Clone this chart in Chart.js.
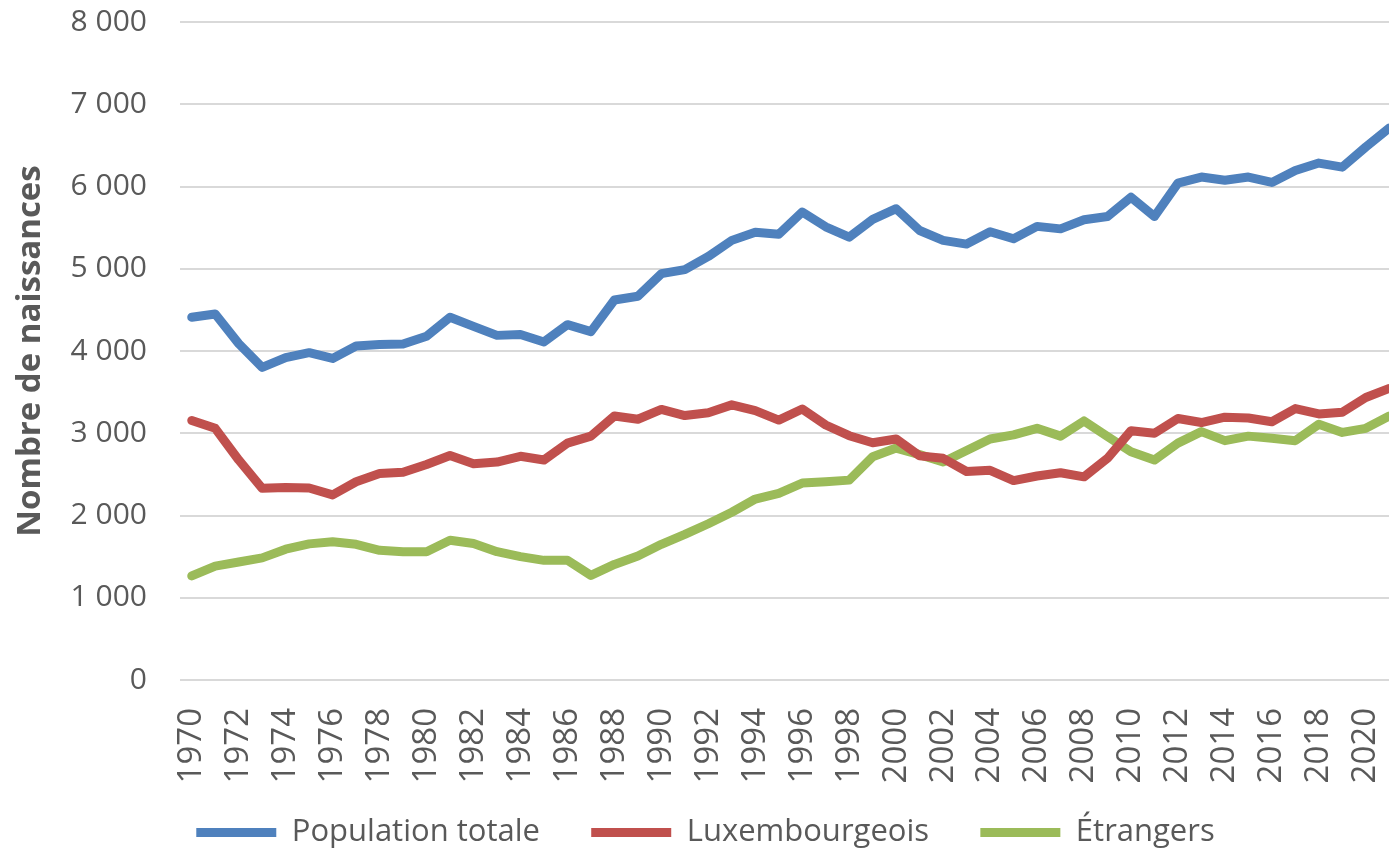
<!DOCTYPE html>
<html>
<head>
<meta charset="utf-8">
<script src="https://cdn.jsdelivr.net/npm/chart.js@4/dist/chart.umd.min.js"></script>
<style>
  html, body { margin: 0; padding: 0; background: #fff; overflow: hidden; }
  #wrap { width: 1389px; height: 852px; overflow: hidden; }
  #inner { width: 1401px; height: 852px; position: relative; }
</style>
</head>
<body>
<div id="wrap"><div id="inner"><canvas id="myChart"></canvas></div></div>
<script>
// years on the x axis
const years = [
  '1970','1971','1972','1973','1974','1975','1976','1977','1978','1979',
  '1980','1981','1982','1983','1984','1985','1986','1987','1988','1989',
  '1990','1991','1992','1993','1994','1995','1996','1997','1998','1999',
  '2000','2001','2002','2003','2004','2005','2006','2007','2008','2009',
  '2010','2011','2012','2013','2014','2015','2016','2017','2018','2019',
  '2020','2021'
];

// births
const populationTotale = [
  4410, 4450, 4090, 3800, 3920, 3980, 3910, 4060, 4080, 4085,
  4180, 4410, 4300, 4190, 4200, 4110, 4320, 4235, 4620, 4665,
  4940, 4990, 5150, 5345, 5445, 5420, 5690, 5510, 5385, 5600,
  5730, 5465, 5345, 5300, 5450, 5365, 5515, 5485, 5595, 5635,
  5870, 5635, 6040, 6115, 6075, 6115, 6050, 6195, 6285, 6235,
  6480, 6710
];
const luxembourgeois = [
  3155, 3060, 2675, 2330, 2340, 2335, 2250, 2410, 2510, 2525,
  2620, 2730, 2630, 2650, 2720, 2675, 2880, 2965, 3210, 3170,
  3290, 3215, 3250, 3345, 3275, 3160, 3295, 3100, 2970, 2885,
  2930, 2725, 2695, 2535, 2550, 2425, 2480, 2520, 2470, 2695,
  3030, 3000, 3180, 3130, 3195, 3185, 3140, 3300, 3235, 3255,
  3435, 3545
];
const etrangers = [
  1265, 1385, 1435, 1485, 1590, 1655, 1680, 1650, 1577, 1560,
  1560, 1700, 1660, 1560, 1500, 1455, 1455, 1272, 1405, 1507,
  1650, 1770, 1900, 2040, 2200, 2270, 2395, 2410, 2430, 2715,
  2820, 2740, 2650, 2790, 2930, 2980, 3060, 2965, 3150, 2960,
  2775, 2675, 2880, 3020, 2910, 2965, 2940, 2910, 3110, 3010,
  3060, 3210
];

const yTicks = [0, 1000, 2000, 3000, 4000, 5000, 6000, 7000, 8000];

const textColor = '#595959';
const fontName = '"Open Sans", "Noto Sans", sans-serif';

// "8 000" style labels
function spaced(v) {
  return String(v).replace(/\B(?=(\d{3})+(?!\d))/g, ' ');
}

function line(label, data, color) {
  return {
    label: label,
    data: data,
    borderColor: color,
    backgroundColor: color,
    borderWidth: 9,
    borderCapStyle: 'round',
    borderJoinStyle: 'round',
    pointRadius: 0,
    tension: 0
  };
}

let ctx = document.getElementById('myChart');

let myChart = new Chart(ctx, {
  type: 'line',
  data: {
    labels: years,
    datasets: [
      line('Population totale', populationTotale, '#4F81BD'),
      line('Luxembourgeois', luxembourgeois, '#C0504D'),
      line('Étrangers', etrangers, '#9BBB59')
    ]
  },
  options: {
    responsive: true,
    maintainAspectRatio: false,
    animation: false,
    layout: { padding: { left: 10, right: 0, top: 22, bottom: 0 } },
    plugins: {
      tooltip: { enabled: false },
      legend: {
        position: 'bottom',
        maxHeight: 45,
        labels: {
          usePointStyle: true,
          pointStyle: 'line',
          pointStyleWidth: 80,
          boxHeight: 31,
          padding: 10,
          color: textColor,
          font: { family: fontName, size: 31 },
          // extra room between the legend entries
          generateLabels: (chart) => {
            const items = Chart.defaults.plugins.legend.labels.generateLabels(chart);
            items.forEach((it, i) => {
              if (i < items.length - 1) it.text = it.text + '\u2003\u2004';
            });
            return items;
          }
        }
      }
    },
    scales: {
      x: {
        offset: true,
        grid: { display: false },
        border: { display: false },
        ticks: {
          autoSkip: false,
          maxRotation: 90,
          minRotation: 90,
          padding: 20,
          color: textColor,
          font: { family: fontName, size: 33 },
          callback: function (value, index) {
            return index % 2 === 0 ? this.getLabelForValue(value) : '';
          }
        },
        afterFit: (axis) => {
          axis.paddingLeft = 0;
          axis.paddingRight = 0;
          axis.height = 127;
        }
      },
      y: {
        min: 0,
        max: 8000,
        afterBuildTicks: (axis) => { axis.ticks = yTicks.map(v => ({ value: v })); },
        grid: { color: '#D9D9D9', lineWidth: 2, drawTicks: false },
        border: { display: false },
        ticks: {
          padding: 33,
          color: textColor,
          font: { family: fontName, size: 30 },
          callback: (v) => spaced(v)
        },
        title: {
          display: true,
          text: 'Nombre de naissances',
          color: textColor,
          font: { family: fontName, size: 33, weight: 'bold' },
          padding: { top: 1, bottom: 8 }
        },
        afterFit: (axis) => {
          axis.paddingTop = 0;
          axis.paddingBottom = 0;
          axis.width = 170;
        }
      }
    }
  }
});
</script>
</body>
</html>
